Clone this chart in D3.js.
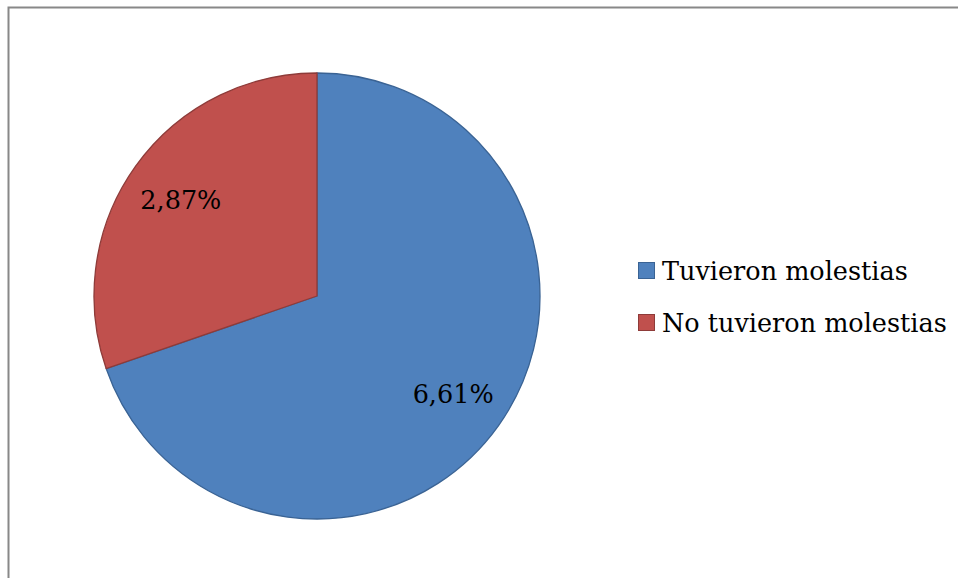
<!DOCTYPE html>
<html>
<head>
<meta charset="utf-8">
<script src="https://cdn.jsdelivr.net/npm/d3@7"></script>
<style>
  html, body { margin: 0; padding: 0; background: #fff; }
  svg { display: block; }
</style>
</head>
<body>
<svg id="chart" width="958" height="578"></svg>
<script>
const categories = ["Tuvieron molestias", "No tuvieron molestias"];
const values = [6.61, 2.87];
const labels = ["6,61%", "2,87%"];
const fills = ["#4f81bd", "#c0504d"];
const strokes = ["#3a6394", "#8e3b39"];

const FONT = "'DejaVu Serif', 'Liberation Serif', 'Noto Serif', serif";
const width = 958, height = 578;
const svg = d3.select("#chart");

svg.append("path")
  .attr("d", "M8.5," + height + " V7.5 H" + width)
  .attr("fill", "none")
  .attr("stroke", "#888")
  .attr("stroke-width", 2);

const cx = 317, cy = 296, r = 223;
const data = categories.map((c, i) => ({ cat: c, value: values[i], label: labels[i], i }));

const pie = d3.pie().value(d => d.value).sort(null);
const arcs = pie(data);
const arc = d3.arc().innerRadius(0).outerRadius(r);
const labelArc = d3.arc().innerRadius(r * 0.75).outerRadius(r * 0.75);

const g = svg.append("g").attr("transform", `translate(${cx},${cy})`);
g.selectAll("path.slice")
  .data(arcs)
  .join("path")
  .attr("class", "slice")
  .attr("d", arc)
  .attr("fill", d => fills[d.data.i])
  .attr("stroke", d => strokes[d.data.i])
  .attr("stroke-width", 1.3)
  .attr("stroke-linejoin", "round");

g.selectAll("text.lbl")
  .data(arcs)
  .join("text")
  .attr("class", "lbl")
  .attr("x", d => labelArc.centroid(d)[0])
  .attr("y", d => labelArc.centroid(d)[1])
  .attr("text-anchor", "middle")
  .attr("dy", "0.4em")
  .attr("font-family", FONT)
  .attr("font-size", 25.5)
  .attr("fill", "#000")
  .text(d => d.data.label);

const legend = svg.append("g").attr("transform", "translate(638,262)");
const rowH = 52;
const items = legend.selectAll("g.item")
  .data(data)
  .join("g")
  .attr("class", "item")
  .attr("transform", (d, i) => `translate(0,${i * rowH})`);
items.append("rect")
  .attr("x", 0.5).attr("y", 0.5)
  .attr("width", 16).attr("height", 16)
  .attr("fill", d => fills[d.i])
  .attr("stroke", d => strokes[d.i])
  .attr("stroke-width", 1);
items.append("text")
  .attr("x", 24)
  .attr("y", 18)
  .attr("font-family", FONT)
  .attr("font-size", 25.5)
  .attr("fill", "#000")
  .text(d => d.cat);
</script>
</body>
</html>
